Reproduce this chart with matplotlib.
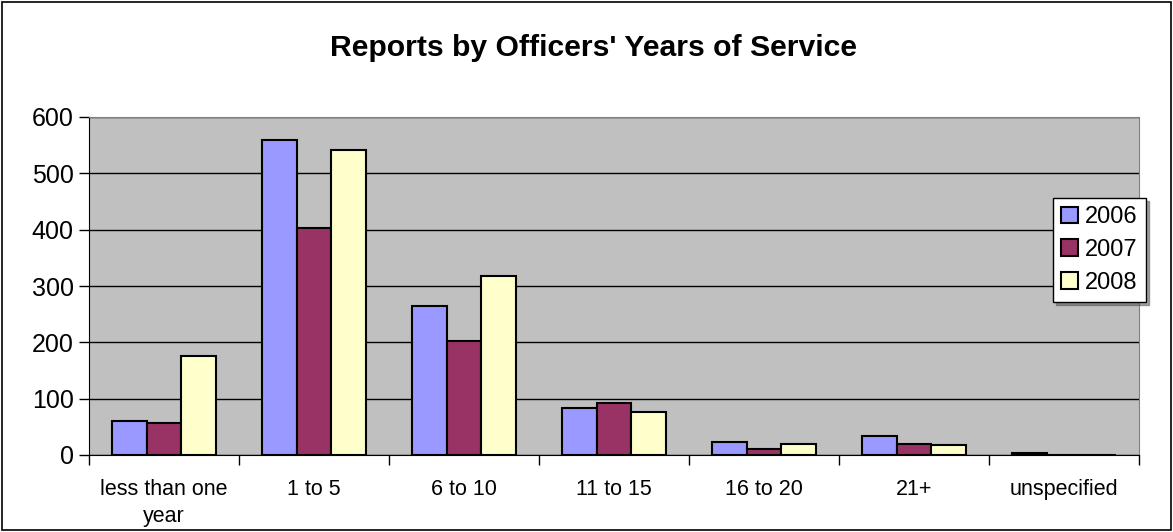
import numpy as np
import matplotlib
matplotlib.use('Agg')
import matplotlib.pyplot as plt
from matplotlib.patches import Rectangle

plt.rcParams['font.family'] = ['Liberation Sans', 'DejaVu Sans']

# Data
categories = ['less than one\nyear', '1 to 5', '6 to 10', '11 to 15',
              '16 to 20', '21+', 'unspecified']
years = ['2006', '2007', '2008']
reports_2006 = [60, 560, 265, 83, 23, 34, 3]
reports_2007 = [56, 403, 203, 93, 11, 20, 0]
reports_2008 = [176, 542, 317, 77, 20, 17, 0]
series = [reports_2006, reports_2007, reports_2008]
colors = ['#9999FF', '#993366', '#FFFFCC']

fig = plt.figure(figsize=(11.73, 5.32), dpi=100)
ax = fig.add_axes([89 / 1173, 1 - 455 / 532, (1139 - 89) / 1173, (455 - 117) / 532])

# Outer chart border
fig.patches.append(Rectangle((0.002, 0.003), 0.996, 0.994, transform=fig.transFigure,
                             fill=False, edgecolor='black', linewidth=1.2))

x = np.arange(len(categories))
width = 0.23
for i in range(len(series)):
    ax.bar(x + (i - 1) * width, series[i], width, color=colors[i],
           edgecolor='black', linewidth=1.5, label=years[i], zorder=3)

ax.set_facecolor('#C0C0C0')
ax.set_xlim(-0.5, len(categories) - 0.5)
ax.set_ylim(0, 600)
ax.set_yticks(np.arange(0, 601, 100))
ax.yaxis.grid(True, color='black', linewidth=1.0, zorder=1)
ax.set_axisbelow(True)

# category boundaries as major ticks, labels on minor ticks
ax.set_xticks(np.arange(-0.5, len(categories), 1.0))
ax.set_xticklabels([])
ax.set_xticks(x, minor=True)
ax.set_xticklabels(categories, minor=True, fontsize=15.5, linespacing=1.4)
ax.tick_params(axis='x', which='minor', length=0, pad=17)
ax.tick_params(axis='x', which='major', length=7, width=1, direction='out')
ax.tick_params(axis='y', labelsize=18, length=7, width=1, direction='out', pad=4)

ax.spines['top'].set_color('#808080')
ax.spines['right'].set_color('#808080')
ax.spines['left'].set_color('black')
ax.spines['bottom'].set_color('black')

fig.text(593 / 1173, 1 - 48 / 532, "Reports by Officers' Years of Service",
         fontsize=21.7, fontweight='bold', ha='center', va='center')

leg = ax.legend(loc='upper left', bbox_to_anchor=(1053 / 1173, 1 - 198 / 532),
                bbox_transform=fig.transFigure, fontsize=17, frameon=True,
                fancybox=False, shadow=True, edgecolor='black',
                handlelength=0.7, handleheight=0.7, handletextpad=0.3,
                labelspacing=0.45, borderpad=0.35, borderaxespad=0)
leg.get_frame().set_linewidth(1.0)

fig.savefig('out.png', dpi=100, facecolor='white')
